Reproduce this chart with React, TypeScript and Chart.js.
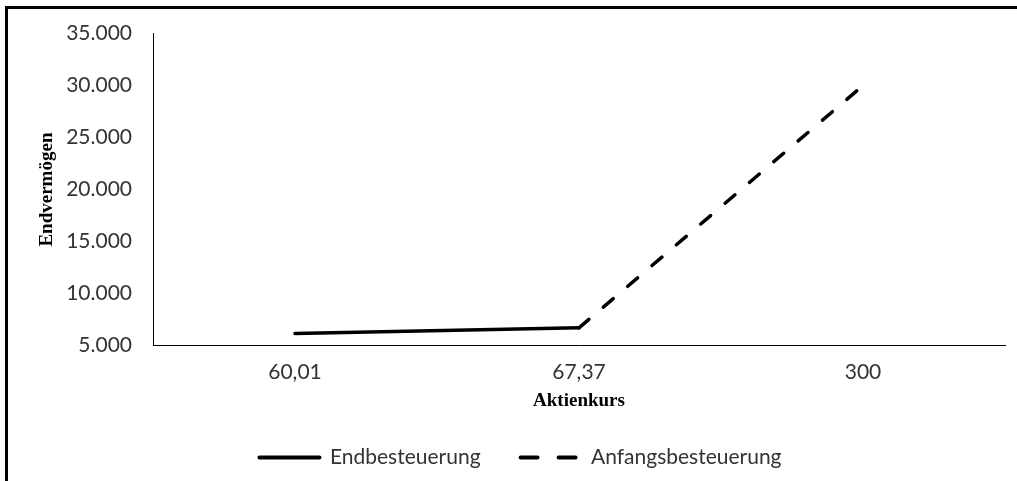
import React, { useEffect, useRef } from "react";
import { Chart, registerables } from "chart.js";

Chart.register(...registerables);

const categories: string[] = ["60,01", "67,37", "300"];
const endbesteuerung: (number | null)[] = [6150, 6700, null];
const anfangsbesteuerung: (number | null)[] = [null, 6700, 30000];
const seriesNames: string[] = ["Endbesteuerung", "Anfangsbesteuerung"];
const yMin = 5000;
const yMax = 35000;
const yStep = 5000;

const fmt = (v: number) => {
  const s = Math.round(v).toString();
  return s.replace(/\B(?=(\d{3})+(?!\d))/g, ".");
};

const legendDash: number[][] = [[], [17, 21]];

export default function App() {
  const ref = useRef<HTMLCanvasElement | null>(null);
  useEffect(() => {
    if (!ref.current) return;
    const chart = new Chart(ref.current, {
      type: "line",
      data: {
        labels: categories,
        datasets: [
          {
            label: seriesNames[0],
            data: endbesteuerung,
            borderColor: "#000",
            backgroundColor: "#000",
            borderWidth: 3.5,
            pointRadius: 0,
            borderCapStyle: "round",
            tension: 0,
          },
          {
            label: seriesNames[1],
            data: anfangsbesteuerung,
            borderColor: "#000",
            backgroundColor: "#000",
            borderWidth: 3.5,
            borderDash: [13, 19],
            pointRadius: 0,
            borderCapStyle: "round",
            tension: 0,
          },
        ],
      },
      options: {
        responsive: false,
        animation: false,
        layout: { padding: { left: 36, top: 15, right: 12, bottom: 3 } },
        plugins: {
          tooltip: { enabled: false },
          legend: {
            position: "bottom",
            labels: {
              usePointStyle: true,
              pointStyleWidth: 60,
              padding: 40,
              color: "#333",
              font: { family: "Lato", size: 21 },
              generateLabels: (c: any) =>
                c.data.datasets.map((ds: any, i: number) => ({
                  text: ds.label,
                  fillStyle: "#000",
                  strokeStyle: "#000",
                  lineWidth: 4,
                  lineDash: legendDash[i],
                  lineCap: "round",
                  pointStyle: "line",
                  fontColor: "#333",
                  hidden: false,
                  datasetIndex: i,
                })),
            },
          },
        },
        scales: {
          x: {
            offset: true,
            grid: { display: false, drawTicks: false, offset: true },
            border: { display: true, color: "#000", width: 1 },
            ticks: {
              color: "#333",
              padding: 14,
              font: { family: "Lato", size: 21 },
            },
            title: {
              display: true,
              text: "Aktienkurs",
              color: "#000",
              padding: { top: 0, bottom: -5 },
              font: { family: "Liberation Serif", size: 19, weight: "bold" },
            },
            afterFit: (scale: any) => {
              scale.height = 61.5;
            },
          },
          y: {
            min: yMin,
            max: yMax,
            grid: { display: false, drawTicks: false },
            border: { display: true, color: "#000", width: 1 },
            ticks: {
              stepSize: yStep,
              color: "#333",
              padding: 21,
              font: { family: "Lato", size: 21 },
              callback: (v: any) => fmt(Number(v)),
            },
            title: {
              display: true,
              text: "Endvermögen",
              color: "#000",
              padding: { top: 0, bottom: 0 },
              font: { family: "Liberation Serif", size: 19, weight: "bold" },
            },
            afterFit: (scale: any) => {
              scale.width = 117;
            },
          },
        },
      },
    });
    return () => chart.destroy();
  }, []);
  return (
    <div style={{ position: "absolute", left: 0, top: 0, width: 1017, height: 481, background: "#fff", overflow: "hidden" }}>
      <div
        style={{
          position: "absolute",
          left: 5,
          top: 6,
          width: 1100,
          height: 600,
          borderLeft: "3px solid #000",
          borderTop: "3px solid #000",
        }}
      />
      <canvas ref={ref} width={1017} height={481} style={{ position: "absolute", left: 0, top: 0, display: "block" }} />
    </div>
  );
}
